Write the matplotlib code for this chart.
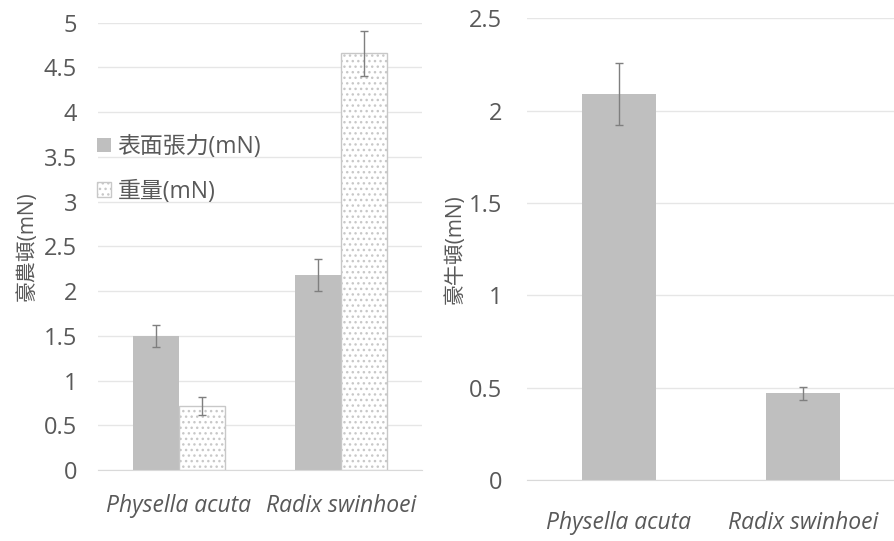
import matplotlib
matplotlib.use("Agg")
import matplotlib.pyplot as plt
import numpy as np

plt.rcParams['font.family'] = ['Open Sans', 'Noto Sans CJK TC', 'DejaVu Sans']
plt.rcParams['hatch.color'] = '#808080'
plt.rcParams['hatch.linewidth'] = 1.0

categories = ["Physella acuta", "Radix swinhoei"]
surface_tension = [1.50, 2.18]
surface_tension_err = [0.12, 0.18]
weight = [0.72, 4.66]
weight_err = [0.10, 0.25]
ratio = [2.09, 0.47]
ratio_err = [0.17, 0.036]
left_yticks = [0, 0.5, 1, 1.5, 2, 2.5, 3, 3.5, 4, 4.5, 5]
right_yticks = [0, 0.5, 1, 1.5, 2, 2.5]
legend_labels = ["表面張力(mN)", "重量(mN)"]
left_ylabel = "豪農頓(mN)"
right_ylabel = "豪牛頓(mN)"

text_color = '#595959'
grid_color = '#e6e6e6'
bar_gray = '#bfbfbf'

fig = plt.figure(figsize=(8.95, 5.41), dpi=100)
ax1 = fig.add_axes([0.1095, 0.1312, 0.362, 0.8268])
ax2 = fig.add_axes([0.5888, 0.1128, 0.411, 0.8534])

x = np.arange(len(categories))
w = 0.285
ekw = dict(ecolor='#7f7f7f', elinewidth=1.0, capsize=3, capthick=1.0)
b1 = ax1.bar(x - w / 2, surface_tension, w, color=bar_gray, yerr=surface_tension_err,
             error_kw=ekw, label=legend_labels[0], zorder=2)
b2 = ax1.bar(x + w / 2, weight, w, color='white', edgecolor='#c8c8c8', hatch='...',
             linewidth=1.0, yerr=weight_err, error_kw=ekw, label=legend_labels[1], zorder=2)
ax1.set_xlim(-0.5, 1.5)
ax1.set_ylim(0, 5)
ax1.set_yticks(left_yticks)
ax1.set_yticklabels([f"{t:g}" for t in left_yticks])
ax1.set_ylabel(left_ylabel, fontsize=15, color=text_color, labelpad=4)

x2 = np.arange(len(categories))
ax2.bar(x2, ratio, 0.4, color=bar_gray, yerr=ratio_err, error_kw=ekw, zorder=2)
ax2.set_xlim(-0.5, 1.5)
ax2.set_ylim(0, 2.5)
ax2.set_yticks(right_yticks)
ax2.set_yticklabels([f"{t:g}" for t in right_yticks])
ax2.set_ylabel(right_ylabel, fontsize=15, color=text_color, labelpad=2)

for ax, ypad, xpad in ((ax1, 15, 17), (ax2, 18, 22)):
    ax.set_xticks(np.arange(len(categories)))
    ax.set_xticklabels(categories, fontsize=16.5, style='italic', color=text_color)
    ax.tick_params(axis='y', labelsize=17, labelcolor=text_color, length=0, pad=ypad)
    ax.tick_params(axis='x', length=0, pad=xpad)
    ax.grid(axis='y', color=grid_color, linewidth=1.0, zorder=0)
    ax.set_axisbelow(True)
    for s in ax.spines.values():
        s.set_visible(False)
    ax.spines['bottom'].set_visible(True)
    ax.spines['bottom'].set_color('#d9d9d9')

leg = ax1.legend(loc='upper left', bbox_to_anchor=(-0.003, 0.749), frameon=False,
                 borderaxespad=0, borderpad=0,
                 fontsize=16.5, handlelength=0.6, handleheight=0.6, handletextpad=0.3,
                 labelspacing=0.9, labelcolor=text_color)

fig.savefig("out.png", dpi=100, facecolor='white')
